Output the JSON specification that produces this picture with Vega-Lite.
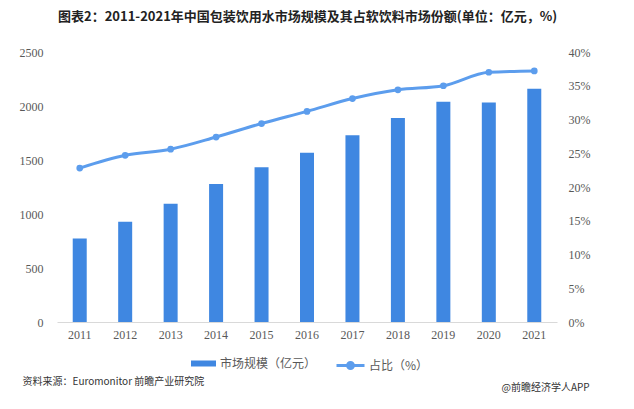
{
  "$schema": "https://vega.github.io/schema/vega-lite/v6.json",
  "autosize": "none",
  "width": 500,
  "height": 270,
  "padding": {"left": 57, "top": 52, "right": 77, "bottom": 87},
  "background": "#ffffff",
  "title": {
    "text": "图表2：2011-2021年中国包装饮用水市场规模及其占软饮料市场份额(单位：亿元，%)",
    "anchor": "start",
    "frame": "group",
    "dx": 1,
    "offset": 22,
    "font": "Noto Sans CJK SC",
    "fontSize": 13,
    "fontWeight": "bold",
    "color": "#222222"
  },
  "config": {
    "view": {"stroke": null},
    "axis": {"grid": false, "ticks": false, "labelFont": "Liberation Serif", "labelFontSize": 12, "labelColor": "#595959"},
    "legend": {"labelFont": "Noto Sans CJK SC", "labelFontSize": 12, "labelColor": "#595959"}
  },
  "data": {
    "values": [
      {"year": "2011", "size": 774, "share": 0.228},
      {"year": "2012", "size": 928, "share": 0.247},
      {"year": "2013", "size": 1095, "share": 0.256},
      {"year": "2014", "size": 1278, "share": 0.274},
      {"year": "2015", "size": 1433, "share": 0.294},
      {"year": "2016", "size": 1568, "share": 0.312},
      {"year": "2017", "size": 1730, "share": 0.331},
      {"year": "2018", "size": 1890, "share": 0.344},
      {"year": "2019", "size": 2039, "share": 0.350},
      {"year": "2020", "size": 2032, "share": 0.370},
      {"year": "2021", "size": 2159, "share": 0.372}
    ]
  },
  "layer": [
    {
      "mark": {"type": "bar", "width": 14},
      "encoding": {
        "x": {
          "field": "year", "type": "ordinal",
          "scale": {"paddingInner": 0, "paddingOuter": 0},
          "axis": {
            "labelAngle": 0, "labelPadding": 7, "domainColor": "#d9d9d9",
            "labelFont": "Liberation Serif",
            "title": "资料来源：Euromonitor 前瞻产业研究院",
            "titleX": -35, "titleY": 59, "titleAlign": "left", "titleAnchor": "start", "titleBaseline": "middle",
            "titleFont": "Noto Sans CJK SC", "titleFontSize": 10, "titleFontWeight": "normal", "titleColor": "#333333"
          }
        },
        "y": {
          "field": "size", "type": "quantitative",
          "scale": {"domain": [0, 2500]},
          "axis": {"values": [0, 500, 1000, 1500, 2000, 2500], "format": "d", "labelFont": "Liberation Serif", "domain": false, "labelPadding": 14, "title": null}
        },
        "fill": {
          "datum": "市场规模（亿元）",
          "scale": {"range": ["#3f87e1"]},
          "legend": {
            "orient": "none", "legendX": 133, "legendY": 298, "title": null,
            "symbolType": "M-1,-0.24H1V0.24H-1Z", "symbolSize": 625, "labelOffset": 3
          }
        }
      }
    },
    {
      "mark": {"type": "line", "strokeWidth": 3, "interpolate": "monotone"},
      "encoding": {
        "x": {
          "field": "year", "type": "ordinal",
          "axis": {
            "orient": "top", "labels": false, "domain": false,
            "title": "@前瞻经济学人APP",
            "titleX": 444, "titleY": 335, "titleAlign": "left", "titleAnchor": "start", "titleBaseline": "middle",
            "titleFont": "Noto Sans CJK SC", "titleFontSize": 10, "titleFontWeight": "normal", "titleColor": "#333333"
          }
        },
        "y": {
          "field": "share", "type": "quantitative",
          "scale": {"domain": [0, 0.4]},
          "axis": {"orient": "right", "format": ".0%", "labelFont": "Liberation Serif", "values": [0, 0.05, 0.1, 0.15, 0.2, 0.25, 0.3, 0.35, 0.4], "domain": false, "labelPadding": 11, "title": null}
        },
        "stroke": {
          "datum": "占比（%）",
          "scale": {"range": ["#5c9ded"]},
          "legend": {
            "orient": "none", "legendX": 278, "legendY": 298, "title": null,
            "symbolType": "M-1,0H1M0.21,0A0.21,0.21,0,1,1,-0.21,0A0.21,0.21,0,1,1,0.21,0Z",
            "symbolSize": 784, "symbolStrokeWidth": 3, "symbolFillColor": "#5c9ded", "labelOffset": 3
          }
        }
      }
    },
    {
      "mark": {"type": "point", "filled": true, "size": 45, "opacity": 1, "color": "#5c9ded"},
      "encoding": {
        "x": {"field": "year", "type": "ordinal", "axis": null},
        "y": {"field": "share", "type": "quantitative", "scale": {"domain": [0, 0.4]}, "axis": null}
      }
    }
  ],
  "resolve": {"scale": {"y": "independent", "fill": "independent", "stroke": "independent"}, "axis": {"x": "independent"}}
}
